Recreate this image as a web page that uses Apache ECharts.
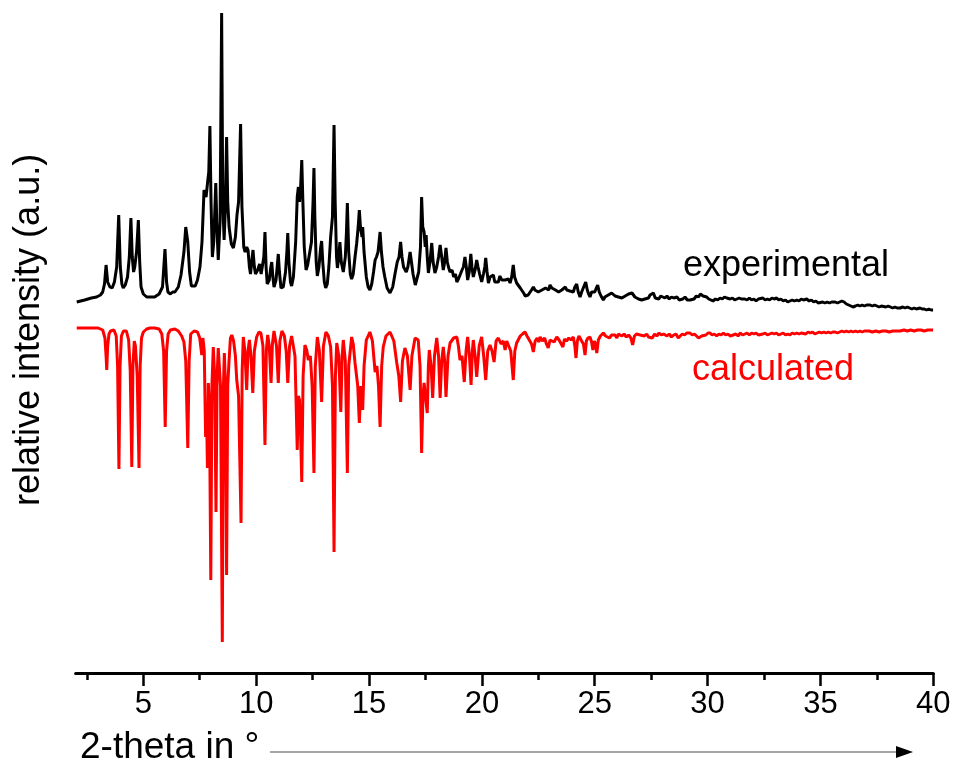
<!DOCTYPE html>
<html>
<head>
<meta charset="utf-8">
<script src="https://cdn.jsdelivr.net/npm/echarts@6/dist/echarts.min.js"></script>
<style>
  html, body { margin: 0; padding: 0; background: #fff; }
  #chart { width: 955px; height: 767px; }
</style>
</head>
<body>
<div id="chart"></div>
<script>
// [2-theta, intensity] (a.u.)
const experimental = [
  [2.05, 10], [2.4, 12], [2.7, 14], [2.93, 15], [3.1, 17], [3.2, 20], [3.28, 28], [3.35, 47], [3.42, 30], [3.52, 25],
  [3.62, 24], [3.72, 30], [3.82, 45], [3.91, 97], [3.98, 45], [4.05, 28], [4.11, 24], [4.2, 27], [4.3, 35], [4.38, 55],
  [4.45, 94], [4.51, 55], [4.57, 40], [4.62, 45], [4.7, 60], [4.78, 92], [4.84, 50], [4.9, 25], [5.0, 18], [5.15, 15],
  [5.3, 15], [5.5, 15], [5.7, 18], [5.85, 25], [5.96, 63], [6.03, 30], [6.09, 20], [6.2, 18], [6.3, 20], [6.4, 20],
  [6.55, 25], [6.67, 37], [6.8, 60], [6.88, 85], [6.92, 87], [6.97, 70], [7.05, 40], [7.13, 26], [7.2, 24], [7.3, 26],
  [7.4, 32], [7.51, 45], [7.6, 70], [7.69, 122], [7.78, 115], [7.85, 130], [7.9, 140], [7.95, 186], [8.0, 110], [8.06, 55],
  [8.12, 70], [8.21, 129], [8.26, 85], [8.32, 52], [8.4, 90], [8.47, 299], [8.52, 110], [8.58, 72], [8.63, 100], [8.69, 175],
  [8.74, 110], [8.8, 85], [8.9, 68], [8.99, 64], [9.08, 75], [9.15, 97], [9.22, 110], [9.31, 188], [9.37, 105], [9.45, 65],
  [9.51, 60], [9.58, 65], [9.64, 62], [9.7, 45], [9.75, 38], [9.8, 50], [9.86, 62], [9.92, 45], [9.97, 38], [10.07, 42],
  [10.15, 48], [10.22, 38], [10.28, 38], [10.34, 55], [10.39, 80], [10.44, 45], [10.49, 28], [10.58, 32], [10.65, 45], [10.69, 50],
  [10.74, 35], [10.79, 25], [10.88, 32], [10.95, 50], [10.98, 58], [11.03, 40], [11.1, 24], [11.2, 25], [11.3, 40], [11.36, 60],
  [11.4, 79], [11.45, 50], [11.52, 30], [11.57, 26], [11.65, 35], [11.75, 70], [11.82, 115], [11.87, 125], [11.92, 110], [11.97, 125],
  [12.02, 152], [12.07, 110], [12.13, 65], [12.21, 42], [12.28, 47], [12.35, 45], [12.45, 70], [12.52, 110], [12.56, 144], [12.6, 95],
  [12.66, 50], [12.71, 36], [12.78, 45], [12.86, 65], [12.9, 71], [12.95, 50], [13.02, 30], [13.08, 24], [13.15, 28], [13.22, 45],
  [13.3, 75], [13.38, 95], [13.45, 187], [13.5, 110], [13.56, 55], [13.6, 44], [13.66, 55], [13.71, 70], [13.77, 50], [13.86, 40],
  [13.95, 55], [14.0, 80], [14.04, 109], [14.1, 60], [14.17, 38], [14.23, 33], [14.3, 38], [14.38, 55], [14.45, 68], [14.52, 85],
  [14.57, 102], [14.62, 85], [14.69, 75], [14.72, 85], [14.78, 60], [14.88, 35], [14.96, 25], [15.04, 22], [15.12, 28], [15.2, 40],
  [15.27, 52], [15.33, 55], [15.4, 60], [15.49, 80], [15.55, 60], [15.62, 45], [15.7, 35], [15.8, 24], [15.93, 19], [16.05, 25],
  [16.15, 38], [16.25, 50], [16.33, 55], [16.4, 70], [16.46, 55], [16.53, 45], [16.59, 47], [16.65, 40], [16.72, 45], [16.82, 60],
  [16.88, 50], [16.95, 38], [17.05, 27], [17.11, 28], [17.2, 40], [17.28, 65], [17.33, 115], [17.38, 85], [17.44, 80], [17.49, 65],
  [17.53, 77], [17.58, 55], [17.63, 39], [17.7, 50], [17.78, 69], [17.84, 50], [17.92, 39], [18.0, 45], [18.08, 55], [18.15, 67],
  [18.22, 55], [18.29, 42], [18.35, 50], [18.41, 64], [18.47, 50], [18.52, 45], [18.59, 40], [18.68, 42], [18.75, 35], [18.83, 38],
  [18.89, 30], [18.96, 33], [19.05, 38], [19.12, 42], [19.18, 45], [19.25, 55], [19.31, 45], [19.37, 32], [19.44, 40], [19.51, 58],
  [19.56, 45], [19.62, 35], [19.7, 42], [19.77, 52], [19.83, 45], [19.9, 38], [19.99, 30], [20.07, 38], [20.13, 45], [20.17, 54],
  [20.23, 40], [20.29, 29], [20.36, 35], [20.42, 33], [20.51, 37], [20.57, 30], [20.63, 32], [20.73, 30], [20.8, 36], [20.88, 32],
  [20.95, 30], [21.03, 32], [21.1, 30], [21.18, 33], [21.25, 29], [21.32, 35], [21.39, 47], [21.45, 35], [21.54, 29], [21.62, 28],
  [21.7, 24], [21.77, 22], [21.85, 19], [21.92, 16], [21.99, 14], [22.05, 17], [22.12, 16], [22.2, 22], [22.28, 25], [22.35, 22],
  [22.42, 24], [22.5, 20], [22.58, 19], [22.66, 22], [22.74, 20], [22.82, 24], [22.9, 25], [22.96, 22], [23.02, 27], [23.1, 24],
  [23.18, 26], [23.26, 22], [23.34, 24], [23.4, 20], [23.46, 19], [23.54, 22], [23.62, 21], [23.7, 25], [23.76, 22], [23.82, 24],
  [23.9, 21], [23.98, 23], [24.05, 20], [24.12, 25], [24.2, 28], [24.27, 20], [24.35, 15], [24.42, 20], [24.5, 22], [24.6, 30],
  [24.67, 22], [24.73, 18], [24.79, 15], [24.86, 20], [24.94, 22], [25.0, 20], [25.07, 24], [25.13, 27], [25.2, 20], [25.28, 16],
  [25.38, 12], [25.45, 15], [25.53, 14], [25.6, 17], [25.68, 15], [25.75, 19], [25.82, 19], [25.9, 16], [25.98, 18], [26.05, 15],
  [26.12, 17], [26.2, 14], [26.27, 14], [26.35, 16], [26.42, 15], [26.5, 18], [26.58, 16], [26.65, 19], [26.71, 19], [26.78, 15],
  [26.86, 17], [26.94, 13], [27.02, 14], [27.08, 12], [27.15, 10], [27.22, 13], [27.3, 15], [27.38, 14], [27.45, 17], [27.52, 16],
  [27.6, 19], [27.68, 14], [27.76, 15], [27.84, 13], [27.92, 16], [28.0, 14], [28.11, 14], [28.2, 16], [28.3, 13], [28.4, 15],
  [28.5, 14], [28.58, 16], [28.65, 15], [28.74, 12], [28.82, 14], [28.9, 13], [29.0, 15], [29.1, 12], [29.22, 12], [29.3, 14],
  [29.4, 13], [29.5, 16], [29.6, 15], [29.68, 18], [29.74, 20], [29.8, 16], [29.88, 14], [29.96, 15], [30.05, 13], [30.15, 12],
  [30.24, 11], [30.35, 13], [30.45, 12], [30.55, 14], [30.65, 13], [30.75, 15], [30.85, 14], [30.91, 15], [31.0, 13], [31.1, 14],
  [31.2, 12], [31.3, 13], [31.4, 14], [31.5, 13], [31.57, 15], [31.65, 13], [31.75, 12], [31.85, 14], [31.95, 12], [32.05, 13],
  [32.15, 11], [32.25, 13], [32.33, 12], [32.45, 14], [32.55, 12], [32.65, 13], [32.75, 12], [32.85, 14], [32.95, 13], [33.06, 14],
  [33.15, 12], [33.25, 13], [33.35, 11], [33.45, 12], [33.55, 10], [33.65, 11], [33.75, 12], [33.85, 11], [33.95, 12], [34.05, 11],
  [34.15, 13], [34.25, 12], [34.39, 13], [34.5, 11], [34.6, 12], [34.7, 10], [34.8, 11], [34.9, 9], [34.98, 9], [35.1, 10],
  [35.2, 9], [35.3, 10], [35.4, 9], [35.5, 10], [35.56, 9], [35.65, 10], [35.75, 9], [35.85, 10], [35.95, 11], [36.05, 10],
  [36.15, 8], [36.25, 7], [36.35, 6], [36.44, 5], [36.55, 6], [36.65, 7], [36.75, 6], [36.85, 7], [36.95, 6], [37.05, 7],
  [37.2, 7], [37.3, 6], [37.4, 7], [37.5, 6], [37.6, 5], [37.7, 6], [37.77, 5], [37.9, 5], [38.0, 6], [38.1, 5],
  [38.2, 4], [38.3, 5], [38.4, 4], [38.53, 4], [38.65, 5], [38.75, 4], [38.85, 5], [38.95, 4], [39.05, 3], [39.15, 4],
  [39.25, 3], [39.41, 4], [39.5, 3], [39.6, 3], [39.7, 2], [39.8, 3], [39.9, 2], [39.99, 2]
];

// calculated pattern, [2-theta, intensity], drawn mirrored below the experimental one
const calculated = [
  [2.05, 2], [2.5, 2], [3.0, 2], [3.2, 4], [3.3, 12], [3.35, 30], [3.38, 44], [3.42, 20], [3.48, 8], [3.55, 5],
  [3.7, 4], [3.8, 10], [3.86, 40], [3.92, 143], [3.97, 40], [4.03, 10], [4.12, 5], [4.25, 5], [4.35, 14], [4.42, 45],
  [4.49, 141], [4.54, 40], [4.6, 15], [4.65, 20], [4.73, 50], [4.81, 142], [4.86, 40], [4.92, 12], [5.0, 6], [5.15, 3],
  [5.3, 2], [5.5, 2], [5.7, 3], [5.82, 8], [5.9, 25], [5.97, 101], [6.03, 25], [6.1, 8], [6.2, 4], [6.4, 3],
  [6.55, 5], [6.7, 10], [6.8, 16], [6.88, 35], [6.97, 122], [7.03, 35], [7.1, 8], [7.25, 5], [7.4, 6], [7.5, 12],
  [7.59, 29], [7.64, 12], [7.7, 25], [7.76, 111], [7.8, 80], [7.84, 142], [7.88, 57], [7.93, 80], [7.99, 254], [8.04, 60],
  [8.1, 21], [8.16, 50], [8.22, 186], [8.27, 50], [8.32, 22], [8.42, 60], [8.5, 316], [8.55, 60], [8.59, 27], [8.64, 60],
  [8.69, 249], [8.74, 60], [8.8, 34], [8.86, 12], [8.92, 9], [9.0, 15], [9.08, 30], [9.14, 54], [9.22, 70], [9.33, 197],
  [9.38, 45], [9.43, 11], [9.5, 25], [9.58, 64], [9.64, 25], [9.7, 14], [9.77, 30], [9.85, 67], [9.92, 25], [10.02, 11],
  [10.12, 6], [10.21, 7], [10.3, 20], [10.39, 119], [10.45, 25], [10.51, 9], [10.58, 20], [10.66, 57], [10.72, 18], [10.79, 5],
  [10.9, 20], [10.98, 57], [11.05, 15], [11.14, 5], [11.25, 10], [11.33, 25], [11.4, 57], [11.48, 20], [11.57, 10], [11.65, 12],
  [11.72, 30], [11.82, 124], [11.87, 70], [11.92, 74], [11.97, 110], [12.02, 156], [12.08, 50], [12.16, 19], [12.24, 24], [12.31, 34],
  [12.4, 30], [12.48, 60], [12.56, 147], [12.62, 40], [12.71, 11], [12.8, 25], [12.9, 76], [12.98, 20], [13.09, 6], [13.2, 10],
  [13.3, 21], [13.38, 60], [13.45, 226], [13.51, 50], [13.57, 17], [13.66, 30], [13.75, 86], [13.81, 30], [13.86, 14], [13.95, 35],
  [14.04, 147], [14.1, 40], [14.23, 11], [14.3, 18], [14.38, 37], [14.5, 60], [14.57, 97], [14.64, 60], [14.72, 84], [14.78, 40],
  [14.88, 14], [15.04, 6], [15.15, 15], [15.27, 46], [15.35, 40], [15.42, 60], [15.49, 101], [15.56, 40], [15.63, 21], [15.75, 10],
  [15.93, 6], [16.1, 15], [16.23, 37], [16.32, 50], [16.4, 76], [16.48, 35], [16.59, 22], [16.7, 30], [16.82, 64], [16.9, 30],
  [17.04, 12], [17.18, 14], [17.26, 40], [17.33, 127], [17.39, 70], [17.44, 57], [17.5, 70], [17.58, 87], [17.63, 40], [17.67, 24],
  [17.75, 40], [17.82, 72], [17.9, 30], [18.0, 12], [18.08, 30], [18.15, 72], [18.22, 35], [18.29, 21], [18.35, 35], [18.41, 71],
  [18.5, 30], [18.59, 17], [18.75, 12], [18.89, 11], [18.96, 20], [19.03, 34], [19.12, 30], [19.22, 56], [19.3, 25], [19.37, 11],
  [19.45, 30], [19.52, 59], [19.58, 25], [19.62, 14], [19.7, 30], [19.77, 51], [19.88, 20], [19.99, 11], [20.08, 30], [20.17, 54],
  [20.26, 25], [20.36, 19], [20.45, 25], [20.54, 36], [20.63, 15], [20.73, 12], [20.85, 18], [20.95, 15], [21.03, 24], [21.1, 15],
  [21.17, 14], [21.28, 25], [21.39, 54], [21.46, 25], [21.54, 17], [21.7, 10], [21.8, 8], [21.91, 6], [22.0, 10], [22.1, 14],
  [22.2, 18], [22.28, 26], [22.36, 15], [22.45, 12], [22.52, 16], [22.58, 11], [22.68, 15], [22.78, 12], [22.86, 18], [22.94, 22],
  [23.02, 14], [23.1, 12], [23.2, 16], [23.32, 11], [23.42, 14], [23.5, 12], [23.59, 21], [23.66, 13], [23.75, 15], [23.85, 12],
  [23.95, 14], [24.05, 11], [24.12, 20], [24.17, 32], [24.23, 15], [24.3, 10], [24.35, 9], [24.42, 15], [24.5, 18], [24.57, 29],
  [24.63, 15], [24.7, 12], [24.79, 11], [24.86, 16], [24.92, 24], [24.98, 15], [25.04, 18], [25.09, 27], [25.16, 14], [25.25, 10],
  [25.38, 7], [25.48, 10], [25.56, 8], [25.65, 12], [25.75, 9], [25.82, 11], [25.9, 9], [25.98, 12], [26.05, 8], [26.12, 7],
  [26.2, 10], [26.3, 8], [26.4, 11], [26.5, 9], [26.6, 12], [26.68, 19], [26.76, 10], [26.85, 8], [26.93, 6], [27.02, 9],
  [27.1, 7], [27.2, 10], [27.3, 8], [27.38, 11], [27.45, 9], [27.55, 12], [27.65, 8], [27.75, 10], [27.85, 7], [27.95, 9],
  [28.05, 8], [28.11, 7], [28.2, 10], [28.3, 8], [28.4, 11], [28.5, 9], [28.6, 8], [28.7, 12], [28.78, 10], [28.88, 8],
  [28.98, 9], [29.08, 7], [29.15, 8], [29.22, 7], [29.32, 9], [29.42, 8], [29.5, 10], [29.6, 12], [29.67, 14], [29.74, 10],
  [29.82, 8], [29.92, 9], [30.02, 7], [30.11, 7], [30.2, 9], [30.3, 8], [30.4, 10], [30.5, 8], [30.6, 9], [30.7, 7],
  [30.8, 9], [30.9, 8], [31.0, 10], [31.13, 9], [31.25, 8], [31.35, 10], [31.45, 7], [31.55, 9], [31.65, 8], [31.75, 7],
  [31.85, 9], [31.95, 7], [32.05, 8], [32.15, 7], [32.25, 9], [32.33, 7], [32.45, 8], [32.55, 7], [32.65, 9], [32.75, 8],
  [32.85, 7], [32.95, 8], [33.05, 7], [33.15, 9], [33.25, 8], [33.35, 7], [33.45, 9], [33.55, 8], [33.65, 9], [33.75, 7],
  [33.85, 8], [33.95, 7], [34.05, 8], [34.15, 7], [34.23, 7], [34.35, 8], [34.45, 6], [34.55, 7], [34.65, 6], [34.75, 8],
  [34.85, 7], [34.95, 6], [35.05, 7], [35.15, 6], [35.25, 7], [35.35, 6], [35.45, 7], [35.55, 6], [35.65, 6], [35.75, 7],
  [35.85, 6], [35.95, 5], [36.05, 6], [36.15, 5], [36.25, 6], [36.35, 5], [36.45, 6], [36.55, 5], [36.65, 6], [36.75, 5],
  [36.85, 6], [36.95, 5], [37.02, 6], [37.15, 5], [37.3, 6], [37.45, 5], [37.6, 6], [37.75, 5], [37.9, 5], [38.05, 6],
  [38.2, 5], [38.35, 5], [38.53, 5], [38.7, 4], [38.85, 5], [39.0, 4], [39.15, 5], [39.3, 4], [39.45, 4], [39.6, 5],
  [39.75, 4], [39.9, 4], [39.99, 4]
];

const majorTicks = [5, 10, 15, 20, 25, 30, 35, 40];
const minorTicks = [2.5, 7.5, 12.5, 17.5, 22.5, 27.5, 32.5, 37.5];

// vertical shift of the mirrored calculated pattern
const calcOffset = -14;

const font = 'Arial, "Liberation Sans", sans-serif';

const chart = echarts.init(document.getElementById('chart'));

const option = {
  animation: false,
  grid: { left: 75.6, right: 21.7, top: 10, bottom: 94 },
  xAxis: [
    {
      type: 'value',
      min: 2,
      max: 40,
      axisLine: { show: true, onZero: false, lineStyle: { color: '#000', width: 3 } },
      axisTick: { show: true, inside: false, length: 13, lineStyle: { color: '#000', width: 2.5 }, customValues: majorTicks },
      axisLabel: { show: true, color: '#000', fontFamily: font, fontSize: 31, margin: 16, customValues: majorTicks },
      splitLine: { show: false }
    },
    {
      type: 'value',
      min: 2,
      max: 40,
      position: 'bottom',
      axisLine: { show: false, onZero: false },
      axisTick: { show: true, inside: false, length: 7, lineStyle: { color: '#000', width: 2.5 }, customValues: minorTicks },
      axisLabel: { show: false },
      splitLine: { show: false }
    }
  ],
  yAxis: {
    type: 'value',
    min: -361,
    max: 302,
    show: false
  },
  series: [
    {
      name: 'experimental',
      type: 'line',
      showSymbol: false,
      data: experimental,
      lineStyle: { color: '#000', width: 3 },
      z: 3
    },
    {
      name: 'calculated',
      type: 'line',
      showSymbol: false,
      data: calculated.map(p => [p[0], calcOffset - p[1]]),
      lineStyle: { color: '#ff0000', width: 3 },
      z: 2
    }
  ],
  graphic: [
    {
      type: 'text',
      left: 683,
      top: 248,
      style: { text: 'experimental', fill: '#000', font: '36px ' + font }
    },
    {
      type: 'text',
      left: 692,
      top: 352,
      style: { text: 'calculated', fill: '#ff0000', font: '36px ' + font }
    },
    {
      type: 'text',
      x: 11,
      y: 506,
      rotation: Math.PI / 2,
      style: { text: 'relative intensity (a.u.)', fill: '#000', font: '36px ' + font, verticalAlign: 'top' }
    },
    {
      type: 'text',
      left: 80,
      top: 729,
      style: { text: '2-theta in \u00b0', fill: '#000', font: '37px ' + font }
    },
    {
      type: 'line',
      shape: { x1: 270, y1: 752, x2: 900, y2: 752 },
      style: { stroke: '#888', lineWidth: 1.5 }
    },
    {
      type: 'polygon',
      shape: { points: [[896, 746], [913, 752], [896, 758]] },
      style: { fill: '#000' }
    }
  ]
};

chart.setOption(option);
</script>
</body>
</html>
